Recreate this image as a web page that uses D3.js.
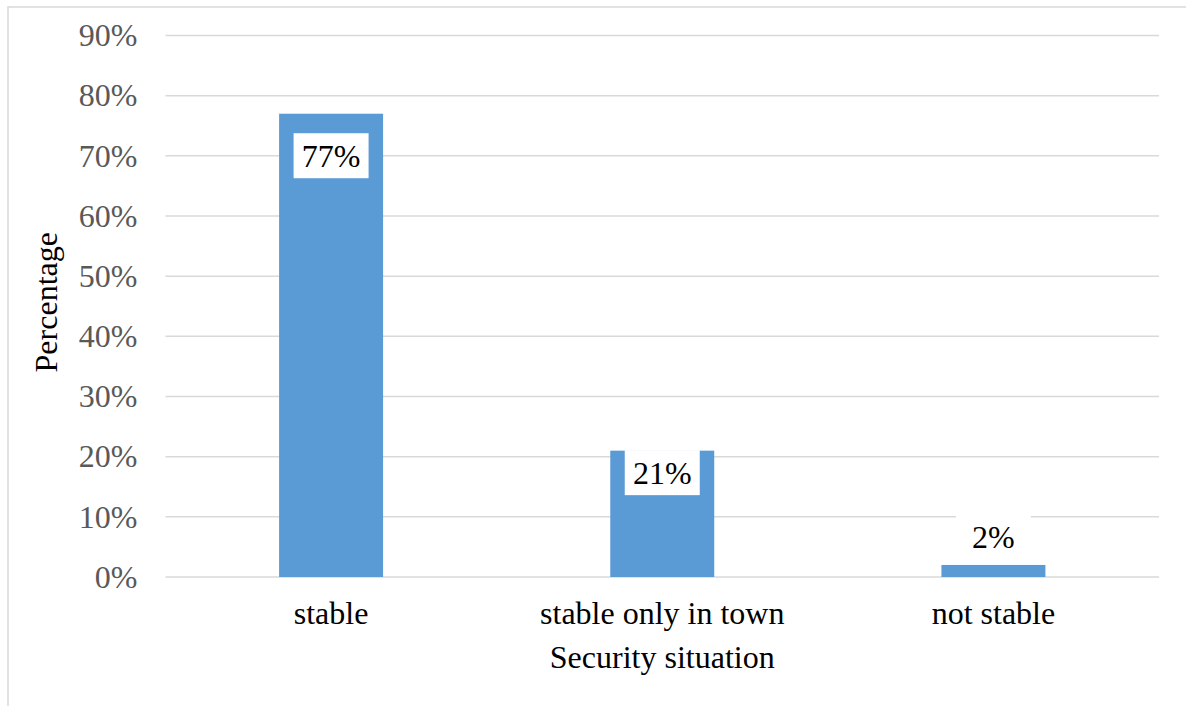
<!DOCTYPE html>
<html lang="en">
<head>
  <meta charset="UTF-8">
  <title>Security situation</title>
  <style>
    body { margin: 0; background: #fff; }
    svg text { font-family: 'Liberation Serif', Tinos, 'Times New Roman', Times, serif; }
  </style>
</head>
<body>
  <script src="https://cdn.jsdelivr.net/npm/d3@7"></script>
  <script>
    // data
    const categories = ['stable', 'stable only in town', 'not stable'];
    const percentages = [77, 21, 2];
    const yTicks = [0, 10, 20, 30, 40, 50, 60, 70, 80, 90];

    const width = 1186, height = 706;
    const margins = { top: 35.5, left: 165.5, right: 27, bottom: 129 };
    const fontSize = 32;

    const svg = d3.select('body').append('svg')
      .attr('width', width).attr('height', height);

    // outer frame (runs past right/bottom edge like the original)
    svg.append('rect')
      .attr('x', 8).attr('y', 7)
      .attr('width', width + 20).attr('height', height + 20)
      .attr('fill', 'none').attr('stroke', '#d9d9d9').attr('stroke-width', 1.5);

    const x = d3.scaleBand().domain(categories)
      .range([margins.left, width - margins.right])
      .paddingInner(0.686).paddingOuter(0.343);
    const y = d3.scaleLinear().domain([0, 90])
      .range([height - margins.bottom, margins.top]);

    // grid lines
    svg.append('g').selectAll('line').data(yTicks).enter().append('line')
      .attr('x1', margins.left).attr('x2', width - margins.right)
      .attr('y1', d => y(d)).attr('y2', d => y(d))
      .attr('stroke', '#d9d9d9').attr('stroke-width', 1.5);

    // y axis labels
    const yAxis = d3.axisLeft(y).tickValues(yTicks).tickSize(0).tickPadding(28)
      .tickFormat(d => d + '%');
    svg.append('g').attr('transform', `translate(${margins.left},0)`).call(yAxis)
      .attr('font-family', null).attr('font-size', null)
      .call(g => g.select('.domain').remove())
      .selectAll('text')
      .attr('font-size', fontSize).attr('fill', '#595959');

    // bars
    svg.append('g').selectAll('rect').data(percentages).enter().append('rect')
      .attr('x', (d, i) => x(categories[i]))
      .attr('width', x.bandwidth())
      .attr('y', d => y(d))
      .attr('height', d => y(0) - y(d))
      .attr('fill', '#5b9bd5');

    // value labels (white boxes)
    const labelShift = [42, 22, -28];
    const labels = svg.append('g').selectAll('g').data(percentages).enter().append('g')
      .attr('transform', (d, i) => `translate(${x(categories[i]) + x.bandwidth() / 2},${y(d) + labelShift[i]})`);
    labels.append('rect')
      .attr('x', -37.5).attr('y', -22.5).attr('width', 75).attr('height', 45)
      .attr('fill', '#fff');
    labels.append('text')
      .attr('text-anchor', 'middle').attr('dy', '0.35em')
      .attr('font-size', fontSize).attr('fill', '#000')
      .text(d => d + '%');

    // x axis labels
    const xAxis = d3.axisBottom(x).tickSize(0).tickPadding(24);
    svg.append('g').attr('transform', `translate(0,${y(0)})`).call(xAxis)
      .attr('font-family', null).attr('font-size', null)
      .call(g => g.select('.domain').remove())
      .selectAll('text')
      .attr('font-size', fontSize).attr('fill', '#000');

    // axis titles
    svg.append('text')
      .attr('x', (margins.left + width - margins.right) / 2).attr('y', 668)
      .attr('text-anchor', 'middle').attr('font-size', fontSize).attr('fill', '#000')
      .text('Security situation');
    svg.append('text')
      .attr('transform', `translate(57,${(y(0) + y(90)) / 2 - 4}) rotate(-90)`)
      .attr('text-anchor', 'middle').attr('font-size', fontSize).attr('fill', '#000')
      .text('Percentage');
  </script>
</body>
</html>
